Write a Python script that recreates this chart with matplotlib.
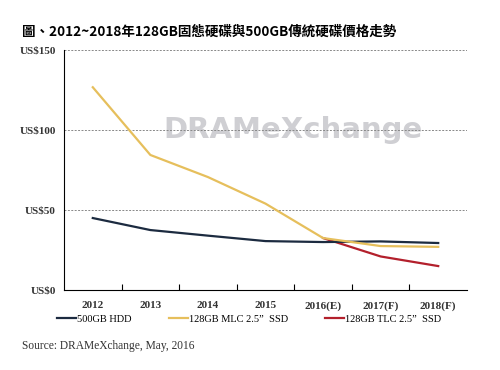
import matplotlib
matplotlib.use("Agg")
import matplotlib.pyplot as plt
import numpy as np

# data
years = ["2012", "2013", "2014", "2015", "2016(E)", "2017(F)", "2018(F)"]
hdd_500gb = [45, 37.5, 34, 30.6, 30, 30.4, 29.4]
mlc_128gb = [126.7, 84.4, 70.6, 54, 32.5, 27.5, 27]
tlc_years = ["2016(E)", "2017(F)", "2018(F)"]
tlc_128gb = [32.5, 21, 15]
y_ticks = [0, 50, 100, 150]
y_labels = ["US$0", "US$50", "US$100", "US$150"]

plt.rcParams['font.family'] = ['Liberation Serif', 'DejaVu Serif']

fig = plt.figure(figsize=(5, 3.7), dpi=100)
ax = fig.add_axes([0.128, 0.216, 0.806, 0.649])

x = np.arange(len(years))
x_tlc = np.array([years.index(y) for y in tlc_years])

# watermark
ax.text(3.47, 100, "DRAMeXchange", ha="center", va="center", fontsize=21,
        fontweight="bold", family="DejaVu Sans", color="#cfcfd3", zorder=0)

ax.plot(x, hdd_500gb, color="#1c2b40", lw=1.6, label="500GB HDD", zorder=3)
ax.plot(x, mlc_128gb, color="#e6bf5c", lw=1.6, label="128GB MLC 2.5\u201d  SSD", zorder=3)
ax.plot(x_tlc, tlc_128gb, color="#b3202c", lw=1.6, label="128GB TLC 2.5\u201d  SSD", zorder=2)

ax.set_xlim(-0.5, len(years) - 0.5)
ax.set_ylim(0, 150)
ax.set_yticks(y_ticks)
ax.set_yticklabels(y_labels, fontsize=8)
ax.set_xticks(x[:-1] + 0.5)
ax.set_xticklabels([])
ax.set_xticks(x, minor=True)
ax.set_xticklabels(years, minor=True, fontsize=8)
ax.tick_params(axis="x", which="major", direction="in", length=4, color="black")
ax.tick_params(axis="x", which="minor", length=0, pad=8)
ax.tick_params(axis="y", length=0, pad=6)
for lab in ax.get_xticklabels(minor=True) + ax.get_yticklabels():
    lab.set_fontweight("bold")
    lab.set_color("#333333")

ax.grid(axis="y", linestyle=(0, (2, 1.5)), color="#888888", lw=0.7)
ax.set_axisbelow(True)
for side in ["top", "right"]:
    ax.spines[side].set_visible(False)
ax.spines["left"].set_color("black")
ax.spines["bottom"].set_color("black")

ax.legend(loc="upper left", bbox_to_anchor=(-0.027, -0.085), ncol=3, frameon=False,
          fontsize=7.5, handlelength=1.8, handletextpad=0.1, columnspacing=3.6,
          borderaxespad=0)

fig.text(0.044, 0.915, "圖、2012~2018年128GB固態硬碟與500GB傳統硬碟價格走勢",
         fontsize=9.75, fontweight="bold", family=["Noto Sans CJK TC", "DejaVu Sans"],
         ha="left", va="center")
fig.text(0.044, 0.065, "Source: DRAMeXchange, May, 2016", fontsize=8.3,
         ha="left", va="center", color="#333333")

fig.savefig("out.png", dpi=100)
